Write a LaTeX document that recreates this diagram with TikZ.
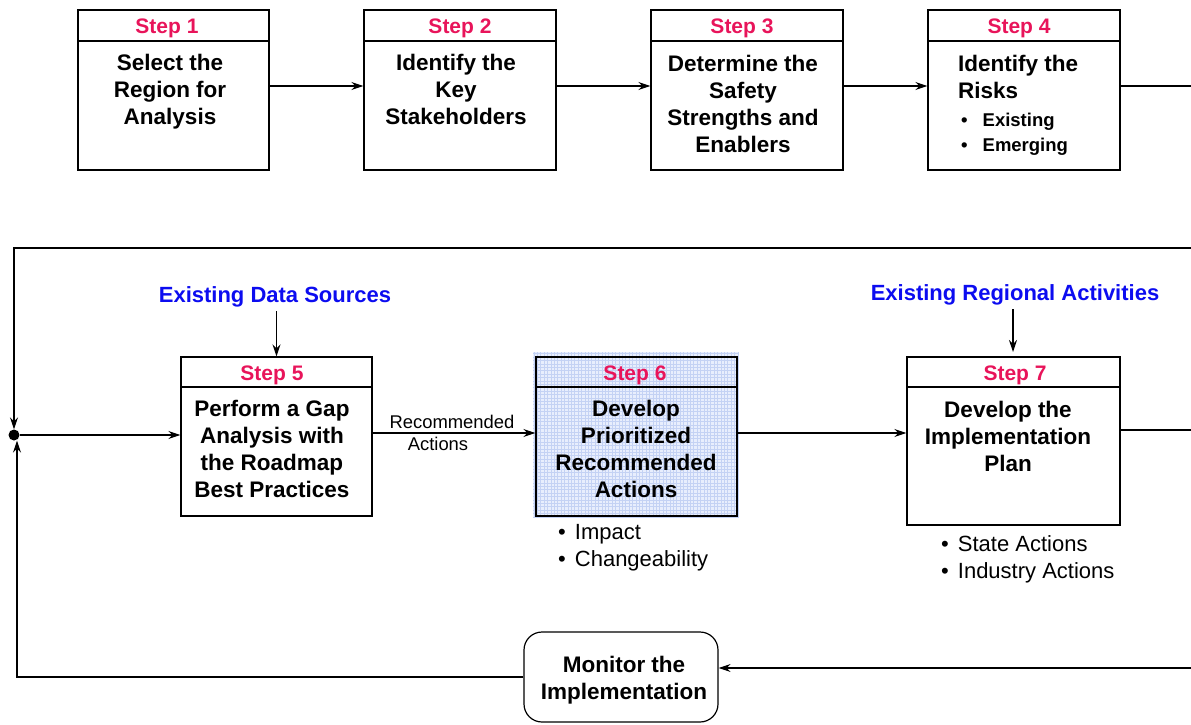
\documentclass[tikz,border=0pt]{standalone}
\usepackage{fontspec}
\setmainfont{Liberation Sans}
\usetikzlibrary{arrows.meta,calc}
\definecolor{steppink}{RGB}{232,20,90}
\definecolor{srcblue}{RGB}{12,12,240}
\definecolor{gridfill}{RGB}{232,238,253}
\definecolor{gridline}{RGB}{196,210,244}
\begin{document}
\begin{tikzpicture}[x=1pt,y=-1pt,
  boxnode/.style={draw, line width=1.4pt, inner sep=0pt},
  steplbl/.style={text=steppink, font=\bfseries\fontsize{21}{25}\selectfont, inner sep=0pt},
  bodytxt/.style={font=\bfseries\fontsize{22.5}{27}\selectfont, align=center, inner sep=0pt},
  srctxt/.style={text=srcblue, font=\bfseries\fontsize{22}{26}\selectfont, inner sep=0pt},
  bultxt/.style={font=\fontsize{22}{27}\selectfont, align=left, inner sep=0pt},
  smalltxt/.style={font=\fontsize{18.4}{22}\selectfont, inner sep=0pt},
  divider/.style={line width=1.8pt},
  arr/.style={-{Stealth[length=12pt,width=8pt,inset=4pt]}, line width=1.2pt},
  conn/.style={line width=1.2pt}]
\useasboundingbox (0,0) rectangle (1191,725);

% ---------- top row ----------
\node[boxnode, minimum width=191pt, minimum height=160pt] (b1) at (173.5,90) {};
\node[boxnode, minimum width=192pt, minimum height=160pt] (b2) at (460,90) {};
\node[boxnode, minimum width=192pt, minimum height=160pt] (b3) at (747,90) {};
\node[boxnode, minimum width=192pt, minimum height=160pt] (b4) at (1024,90) {};
\foreach \b in {b1,b2,b3,b4}{
  \draw[divider] ($(\b.north west)+(0,32)$) -- ($(\b.north east)+(0,32)$);
}
\node[steplbl] (s1) at (167,28) {Step 1};
\node[steplbl] (s2) at (460,28) {Step 2};
\node[steplbl] (s3) at (742,28) {Step 3};
\node[steplbl] (s4) at (1019,28) {Step 4};
\node[bodytxt] (t1) at (170,91.5) {Select the\\Region for\\Analysis};
\node[bodytxt] (t2) at (456,89.5) {Identify the\\Key\\Stakeholders};
\node[bodytxt] (t3) at (743,103.5) {Determine the\\Safety\\Strengths and\\Enablers};
\node[bodytxt, align=left, anchor=west] (t4) at (958,76.5) {Identify the\\Risks};
\node[anchor=west, align=left, inner sep=0pt, font=\bfseries\fontsize{18.5}{25}\selectfont] (t4b) at (961,134.5)
  {\textbullet\hspace{15pt}Existing\\\textbullet\hspace{15pt}Emerging};

\draw[arr] ([yshift=4pt]b1.east) -- ([yshift=4pt]b2.west);
\draw[arr] ([yshift=4pt]b2.east) -- ([yshift=4pt]b3.west);
\draw[arr] ([yshift=4pt]b3.east) -- ([yshift=4pt]b4.west);
\coordinate (r4) at (1191,86);
\draw[conn] ([yshift=4pt]b4.east) -- (r4);

% ---------- middle row ----------
% Step 6 patterned background
\fill[gridfill] (533,352) rectangle (739,518);
\draw[gridline, line width=0.35pt, step=3.4pt] (533,352) grid (739,518);

\node[boxnode, minimum width=191pt, minimum height=159pt] (b5) at (276.5,436.5) {};
\node[boxnode, minimum width=201pt, minimum height=159pt] (b6) at (636.5,436.5) {};
\node[boxnode, minimum width=213pt, minimum height=168pt] (b7) at (1013.5,441) {};
\foreach \b in {b5,b6,b7}{
  \draw[divider] ($(\b.north west)+(0,31)$) -- ($(\b.north east)+(0,31)$);
}
\node[steplbl] (s5) at (272,375) {Step 5};
\node[steplbl] (s6) at (635,375) {Step 6};
\node[steplbl] (s7) at (1015,375) {Step 7};
\node[bodytxt] (t5) at (272,449) {Perform a Gap\\Analysis with\\the Roadmap\\Best Practices};
\node[bodytxt] (t6) at (636,449) {Develop\\Prioritized\\Recommended\\Actions};
\node[bodytxt] (t7) at (1008,436) {Develop the\\Implementation\\Plan};

\node[srctxt] (src1) at (275,297) {Existing Data Sources};
\node[srctxt] (src2) at (1015,295) {Existing Regional Activities};
\draw[arr] (b5.north |- 0,311) coordinate (a5) -- (b5.north);
\draw[arr] (1013,309) coordinate (a7) -- (1013,352) coordinate (a7e);

\draw[arr] ([yshift=3.5pt]b5.east) -- ([yshift=3.5pt]b6.west);
\node[smalltxt] (rec1) at (452,422) {Recommended};
\node[smalltxt] (rec2) at (438,444) {Actions};
\draw[arr] ([yshift=3.5pt]b6.east) -- ([yshift=3.5pt]b6.east -| b7.west);
\coordinate (r7) at (1191,430);
\draw[conn] ([yshift=11pt]b7.east) -- (r7);

\node[bultxt, anchor=west] (bl6) at (558,547.5) {\textbullet\hspace{9pt}Impact\\\textbullet\hspace{9pt}Changeability};
\node[bultxt, anchor=west] (bl7) at (941,559.5) {\textbullet\hspace{9pt}State Actions\\\textbullet\hspace{9pt}Industry Actions};

% ---------- loop ----------
\node[circle, fill=black, inner sep=0pt, minimum size=11pt] (dot) at (14,435) {};
\coordinate (tr) at (1191,248);
\coordinate (tl) at (14,248);
\draw[arr] (tr) -- (tl) -- (dot.north);
\draw[arr] (dot.east) -- (dot.east -| b5.west);

\node[draw, line width=1.2pt, rounded corners=18pt, minimum width=194pt, minimum height=90pt, inner sep=0pt] (mon) at (621,677) {};
\node[bodytxt] (tm) at (624,680.5) {Monitor the\\Implementation};
\coordinate (br) at (1191,668);
\draw[arr] (br) -- (br -| mon.east);
\coordinate (bl) at (17,677);
\draw[arr] (mon.west) -- (bl) -- (bl |- dot.south);
\end{tikzpicture}
\end{document}
